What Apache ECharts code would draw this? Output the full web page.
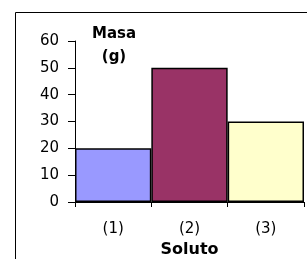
<!DOCTYPE html>
<html lang="es">
<head>
    <meta charset="UTF-8">
    <title>Masa por soluto</title>
    <script src="https://cdn.jsdelivr.net/npm/echarts@6/dist/echarts.min.js"></script>
    <style>
        body { margin: 0; background: #fff; }
    </style>
</head>
<body>
<div id="main" style="width: 307px;height:259px;"></div>
<script type="text/javascript">
    // datos
    var solutos = ["(1)", "(2)", "(3)"];
    var masas = [20, 50, 30];
    var colores = ["#9999FF", "#993366", "#FFFFCC"];
    var ticksY = [0, 10, 20, 30, 40, 50, 60];

    var myChart = echarts.init(document.getElementById('main'));
    var fuente = "'DejaVu Sans', sans-serif";

    myChart.setOption({
        animation: false,
        backgroundColor: "#fff",
        grid: { left: 75, top: 41, right: 3, bottom: 57, outerBoundsMode: "none" },
        graphic: [
            {
                type: "rect",
                shape: { x: 15.5, y: 12.5, width: 400, height: 400 },
                style: { fill: "none", stroke: "#000", lineWidth: 1 },
                silent: true
            },
            {
                type: "text",
                x: 114, y: 46,
                style: {
                    text: "Masa\n(g)", fill: "#000", font: "bold 15px " + fuente,
                    align: "center", verticalAlign: "middle", lineHeight: 23
                }
            }
        ],
        xAxis: {
            type: "category",
            data: solutos,
            name: "Soluto",
            nameLocation: "middle",
            nameGap: 40,
            nameTextStyle: { fontFamily: fuente, fontSize: 16, fontWeight: "bold", color: "#000" },
            axisLine: { lineStyle: { color: "#000", width: 1 } },
            axisTick: { show: true, length: 5, lineStyle: { color: "#000" } },
            axisLabel: { margin: 20, fontFamily: fuente, fontSize: 15, color: "#000" }
        },
        yAxis: {
            type: "value",
            min: ticksY[0],
            max: ticksY[ticksY.length - 1],
            interval: 10,
            splitLine: { show: false },
            axisLine: { show: true, lineStyle: { color: "#000", width: 1 } },
            axisTick: { show: true, length: 7, lineStyle: { color: "#000" } },
            axisLabel: { margin: 16, fontFamily: fuente, fontSize: 15, color: "#000" }
        },
        series: [
            {
                type: "bar",
                barWidth: "100%",
                data: masas.map(function (v, i) {
                    return {
                        value: v,
                        itemStyle: { color: colores[i], borderColor: "#000", borderWidth: 1.5 }
                    };
                })
            }
        ]
    });
</script>
</body>
</html>
